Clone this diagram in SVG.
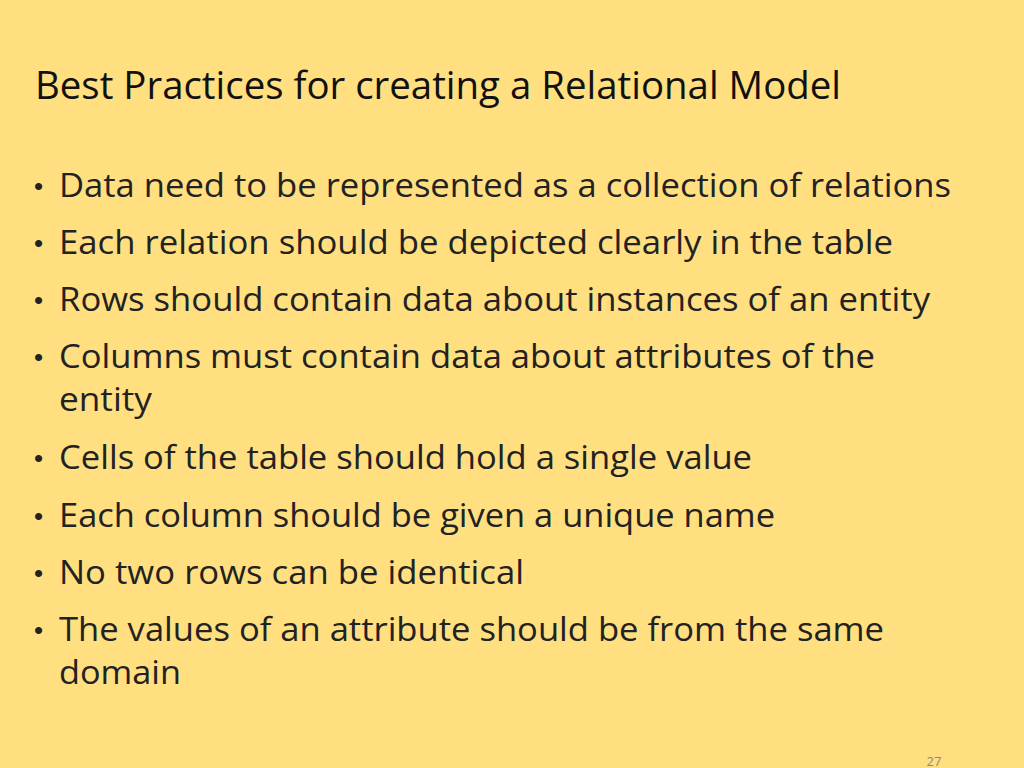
<svg xmlns="http://www.w3.org/2000/svg" width="1024" height="768" viewBox="0 0 1024 768">
<style>
.t{font-family:"Open Sans","Liberation Sans",sans-serif;font-size:33px;fill:#222}
.b{font-family:"Liberation Sans",sans-serif;font-size:26px;fill:#222}
.h{font-family:"Open Sans","Liberation Sans",sans-serif;font-size:38px;fill:#111}
</style>
<rect width="1024" height="768" fill="#FFDF80"/>
<text class="h" x="35" y="99" textLength="806" lengthAdjust="spacingAndGlyphs">Best Practices for creating a Relational Model</text>
<g class="b">
<text x="34" y="195">•</text><text x="34" y="252">•</text><text x="34" y="309">•</text><text x="34" y="366">•</text>
<text x="34" y="467">•</text><text x="34" y="525">•</text><text x="34" y="582">•</text><text x="34" y="639">•</text>
</g>
<g class="t">
<text x="59" y="197" textLength="892" lengthAdjust="spacingAndGlyphs">Data need to be represented as a collection of relations</text>
<text x="59" y="254" textLength="834" lengthAdjust="spacingAndGlyphs">Each relation should be depicted clearly in the table</text>
<text x="59" y="311" textLength="871" lengthAdjust="spacingAndGlyphs">Rows should contain data about instances of an entity</text>
<text x="59" y="368" textLength="816" lengthAdjust="spacingAndGlyphs">Columns must contain data about attributes of the</text>
<text x="59" y="411" textLength="93" lengthAdjust="spacingAndGlyphs">entity</text>
<text x="59" y="469" textLength="693" lengthAdjust="spacingAndGlyphs">Cells of the table should hold a single value</text>
<text x="59" y="527" textLength="716" lengthAdjust="spacingAndGlyphs">Each column should be given a unique name</text>
<text x="59" y="584" textLength="465" lengthAdjust="spacingAndGlyphs">No two rows can be identical</text>
<text x="59" y="641" textLength="825" lengthAdjust="spacingAndGlyphs">The values of an attribute should be from the same</text>
<text x="59" y="684" textLength="122" lengthAdjust="spacingAndGlyphs">domain</text>
</g>
<text x="934" y="766" font-family="Open Sans,Liberation Sans,sans-serif" font-size="13" fill="#888" text-anchor="middle">27</text>
</svg>
